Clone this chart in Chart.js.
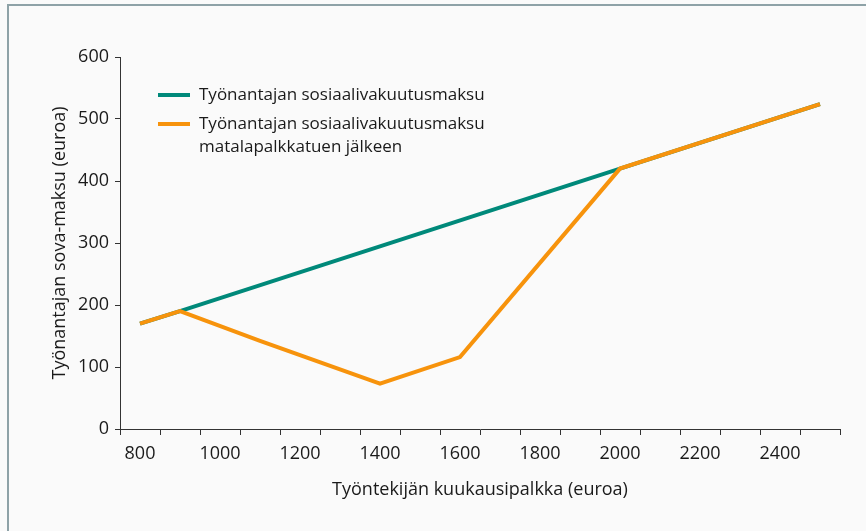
<!DOCTYPE html>
<html>
<head>
<meta charset="utf-8">
<script src="https://cdn.jsdelivr.net/npm/chart.js@4.4.1/dist/chart.umd.min.js"></script>
<style>
  html, body { margin: 0; padding: 0; background: #fafafa; }
  #wrap { width: 866px; height: 531px; }
</style>
</head>
<body>
<div id="wrap"><canvas id="feeChart"></canvas></div>
<script>
// monthly wage categories (euro)
const wages = ["800", "900", "1000", "1100", "1200", "1300", "1400", "1500", "1600",
               "1700", "1800", "1900", "2000", "2100", "2200", "2300", "2400", "2500"];

// employer social security fee, only the break points are given
const basicFee = [170, 190, null, null, null, null, null, null, null,
                  null, null, null, 420, null, null, null, null, 524];
const afterSubsidy = [170, 190, null, 142, null, null, 73, null, 116,
                      null, null, null, 420, null, null, null, null, 524];

const seriesNames = [
    ["Työnantajan sosiaalivakuutusmaksu"],
    ["Työnantajan sosiaalivakuutusmaksu", "matalapalkkatuen jälkeen"]
];
const seriesColors = ["#00897a", "#f7930c"];

const fontFamily = "'Open Sans', 'Noto Sans', sans-serif";

// background, frame and the legend inside the plot
const decor = {
    id: "decor",
    beforeDraw(chart) {
        const ctx = chart.ctx;
        ctx.save();
        ctx.fillStyle = "#fafafa";
        ctx.fillRect(0, 0, chart.width, chart.height);
        ctx.strokeStyle = "#8ea2a7";
        ctx.lineWidth = 2;
        ctx.beginPath();
        ctx.moveTo(8, chart.height);
        ctx.lineTo(8, 5);
        ctx.lineTo(chart.width, 5);
        ctx.stroke();
        ctx.restore();
    },
    afterDraw(chart) {
        const ctx = chart.ctx;
        ctx.save();
        ctx.font = "17px " + fontFamily;
        ctx.textBaseline = "middle";
        ctx.fillStyle = "#1a1a1a";
        let y = 95;
        seriesNames.forEach((lines, i) => {
            ctx.strokeStyle = seriesColors[i];
            ctx.lineWidth = 4;
            ctx.beginPath();
            ctx.moveTo(158, y);
            ctx.lineTo(190, y);
            ctx.stroke();
            lines.forEach((t, j) => ctx.fillText(t, 199, y + j * 23));
            y += 29;
        });
        ctx.restore();
    }
};

new Chart(document.getElementById("feeChart"), {
    type: "line",
    data: {
        labels: wages,
        datasets: [{
            label: seriesNames[0].join(" "),
            data: basicFee,
            borderColor: seriesColors[0],
            borderWidth: 4,
            pointRadius: 0,
            spanGaps: true,
            tension: 0,
            order: 1
        }, {
            label: seriesNames[1].join(" "),
            data: afterSubsidy,
            borderColor: seriesColors[1],
            borderWidth: 4,
            pointRadius: 0,
            spanGaps: true,
            tension: 0,
            order: 0
        }]
    },
    options: {
        responsive: true,
        maintainAspectRatio: false,
        animation: false,
        layout: { padding: { left: 0, top: 57, right: 26, bottom: 0 } },
        plugins: {
            legend: { display: false },
            tooltip: { enabled: false }
        },
        scales: {
            x: {
                offset: true,
                grid: {
                    offset: true,
                    drawOnChartArea: false,
                    drawTicks: true,
                    tickLength: 6,
                    color: "#333"
                },
                border: { display: true, color: "#333", width: 1 },
                ticks: {
                    autoSkip: false,
                    maxRotation: 0,
                    padding: 8,
                    color: "#1a1a1a",
                    font: { family: fontFamily, size: 18 },
                    callback: function (value, index) {
                        return index % 2 === 0 ? wages[index] : "";
                    }
                },
                title: {
                    display: true,
                    text: "Työntekijän kuukausipalkka (euroa)",
                    color: "#1a1a1a",
                    font: { family: fontFamily, size: 18 },
                    padding: { top: 0, bottom: 30 }
                },
                afterFit: function (scale) { scale.height = 102; }
            },
            y: {
                min: 0,
                max: 600,
                grid: {
                    drawOnChartArea: false,
                    drawTicks: true,
                    tickLength: 5,
                    color: "#333"
                },
                border: { display: true, color: "#333", width: 1 },
                ticks: {
                    stepSize: 100,
                    padding: 6,
                    color: "#1a1a1a",
                    font: { family: fontFamily, size: 18 }
                },
                title: {
                    display: true,
                    text: "Työnantajan sova-maksu (euroa)",
                    color: "#1a1a1a",
                    font: { family: fontFamily, size: 18 },
                    padding: { top: 49, bottom: 0 }
                },
                afterFit: function (scale) { scale.width = 120; }
            }
        }
    },
    plugins: [decor]
});
</script>
</body>
</html>
